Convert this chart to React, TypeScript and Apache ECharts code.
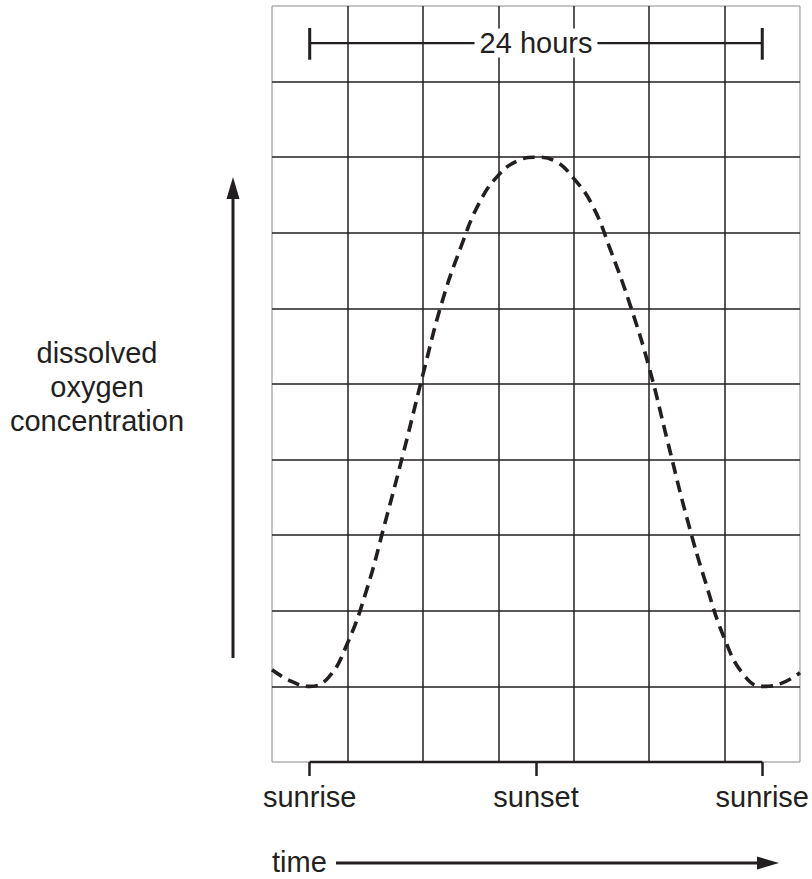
import React, { useEffect, useRef } from "react";
import * as echarts from "echarts";

// Time in hours from the left edge of the grid (sunrise at 2, sunset at 14, next sunrise at 26)
const timeHours = [0, 1, 2, 3, 4, 5, 6, 7, 8, 9, 10, 11, 12, 13, 14, 15, 16, 17, 18, 19, 20, 21, 22, 23, 24, 25, 26, 27, 28];
// Dissolved oxygen concentration, in grid units
const oxygenLevels = [1.22, 1.07, 1.0, 1.12, 1.57, 2.26, 3.17, 4.12, 5.12, 6.07, 6.8, 7.4, 7.76, 7.95, 8.0, 7.95, 7.72, 7.36, 6.74, 6.04, 5.22, 4.22, 3.23, 2.37, 1.63, 1.16, 1.0, 1.04, 1.18];

const dayMarks = [2, 14, 26];
const dayMarkLabels = ["sunrise", "sunset", "sunrise"];

const bracketStart = 2;
const bracketEnd = 26;
const bracketMid = 14;
const bracketLevel = 9.51;
const bracketTickLow = 9.29;
const bracketTickHigh = 9.71;
const bracketText = "24 hours";

const yAxisName = "dissolved\noxygen\nconcentration";
const xAxisName = "time";

const INK = "#231f20";
const FONT = "Liberation Sans, Arial, Helvetica, sans-serif";

export default function App() {
  const ref = useRef<HTMLDivElement>(null);

  useEffect(() => {
    if (!ref.current) return;
    const chart = echarts.init(ref.current, undefined, { renderer: "svg" });

    const curve = timeHours.map((t, i) => [t, oxygenLevels[i]]);

    chart.setOption({
      animation: false,
      backgroundColor: "#ffffff",
      grid: {
        left: 272,
        top: 6,
        width: 529,
        height: 756,
        show: true,
        borderColor: "#8c8c8c",
        borderWidth: 1,
        backgroundColor: "transparent",
      },
      xAxis: [
        {
          type: "value",
          min: 0,
          max: 28,
          interval: 4,
          axisLine: { show: false },
          axisTick: { show: false },
          axisLabel: { show: false },
          splitLine: {
            show: true,
            showMinLine: false,
            showMaxLine: false,
            lineStyle: { color: INK, width: 1.5 },
          },
        },
        {
          type: "value",
          min: 0,
          max: 28,
          position: "bottom",
          axisLine: { show: false },
          axisTick: {
            show: true,
            customValues: dayMarks,
            length: 14,
            lineStyle: { color: INK, width: 2.5 },
          },
          axisLabel: {
            show: true,
            customValues: dayMarks,
            formatter: (v: number) => dayMarkLabels[dayMarks.indexOf(v)] ?? "",
            margin: 20,
            fontSize: 29,
            color: INK,
            fontFamily: FONT,
          },
          splitLine: { show: false },
        },
      ],
      yAxis: {
        type: "value",
        min: 0,
        max: 10,
        interval: 1,
        axisLine: { show: false },
        axisTick: { show: false },
        axisLabel: { show: false },
        splitLine: {
          show: true,
          showMinLine: false,
          showMaxLine: false,
          lineStyle: { color: INK, width: 1.5 },
        },
      },
      series: [
        {
          type: "line",
          xAxisIndex: 0,
          data: curve,
          smooth: 0.45,
          symbol: "none",
          clip: false,
          lineStyle: { color: INK, width: 3.6, type: [12, 7] },
          z: 3,
        },
        {
          type: "line",
          xAxisIndex: 0,
          data: [[dayMarks[0], 0], [dayMarks[dayMarks.length - 1], 0]],
          symbol: "none",
          clip: false,
          lineStyle: { color: INK, width: 2.5 },
          z: 4,
        },
        {
          type: "line",
          xAxisIndex: 0,
          data: [[bracketStart, bracketLevel], [bracketEnd, bracketLevel]],
          symbol: "none",
          lineStyle: { color: INK, width: 2.2 },
          z: 4,
        },
        {
          type: "line",
          xAxisIndex: 0,
          data: [[bracketStart, bracketTickLow], [bracketStart, bracketTickHigh]],
          symbol: "none",
          lineStyle: { color: INK, width: 3 },
          z: 4,
        },
        {
          type: "line",
          xAxisIndex: 0,
          data: [[bracketEnd, bracketTickLow], [bracketEnd, bracketTickHigh]],
          symbol: "none",
          lineStyle: { color: INK, width: 3 },
          z: 4,
        },
        {
          type: "scatter",
          xAxisIndex: 0,
          data: [[bracketMid, bracketLevel]],
          symbol: "rect",
          symbolSize: 1,
          itemStyle: { color: "#ffffff", opacity: 1 },
          silent: true,
          z: 10,
          label: {
            show: true,
            position: "inside",
            formatter: bracketText,
            fontSize: 29,
            fontFamily: FONT,
            color: INK,
            opacity: 1,
            textBorderWidth: 0,
            backgroundColor: "#ffffff",
            padding: [0, 5],
            lineHeight: 29,
          },
        },
      ],
      graphic: [
        {
          type: "text",
          x: 97,
          y: 387,
          style: {
            text: yAxisName,
            fontSize: 29,
            lineHeight: 34,
            fontFamily: FONT,
            fill: INK,
            align: "center",
            verticalAlign: "middle",
          },
        },
        {
          type: "line",
          shape: { x1: 233, y1: 658, x2: 233, y2: 196 },
          style: { stroke: INK, lineWidth: 3 },
        },
        {
          type: "polygon",
          shape: { points: [[233, 177], [226.5, 199], [239.5, 199]] },
          style: { fill: INK },
        },
        {
          type: "text",
          x: 272,
          y: 862,
          style: {
            text: xAxisName,
            fontSize: 29,
            fontFamily: FONT,
            fill: INK,
            align: "left",
            verticalAlign: "middle",
          },
        },
        {
          type: "line",
          shape: { x1: 336, y1: 863, x2: 760, y2: 863 },
          style: { stroke: INK, lineWidth: 3 },
        },
        {
          type: "polygon",
          shape: { points: [[779, 863], [757, 856.5], [757, 869.5]] },
          style: { fill: INK },
        },
      ],
    });

    return () => chart.dispose();
  }, []);

  return (
    <div
      ref={ref}
      style={{ position: "fixed", left: 0, top: 0, width: 812, height: 879, background: "#fff" }}
    />
  );
}
